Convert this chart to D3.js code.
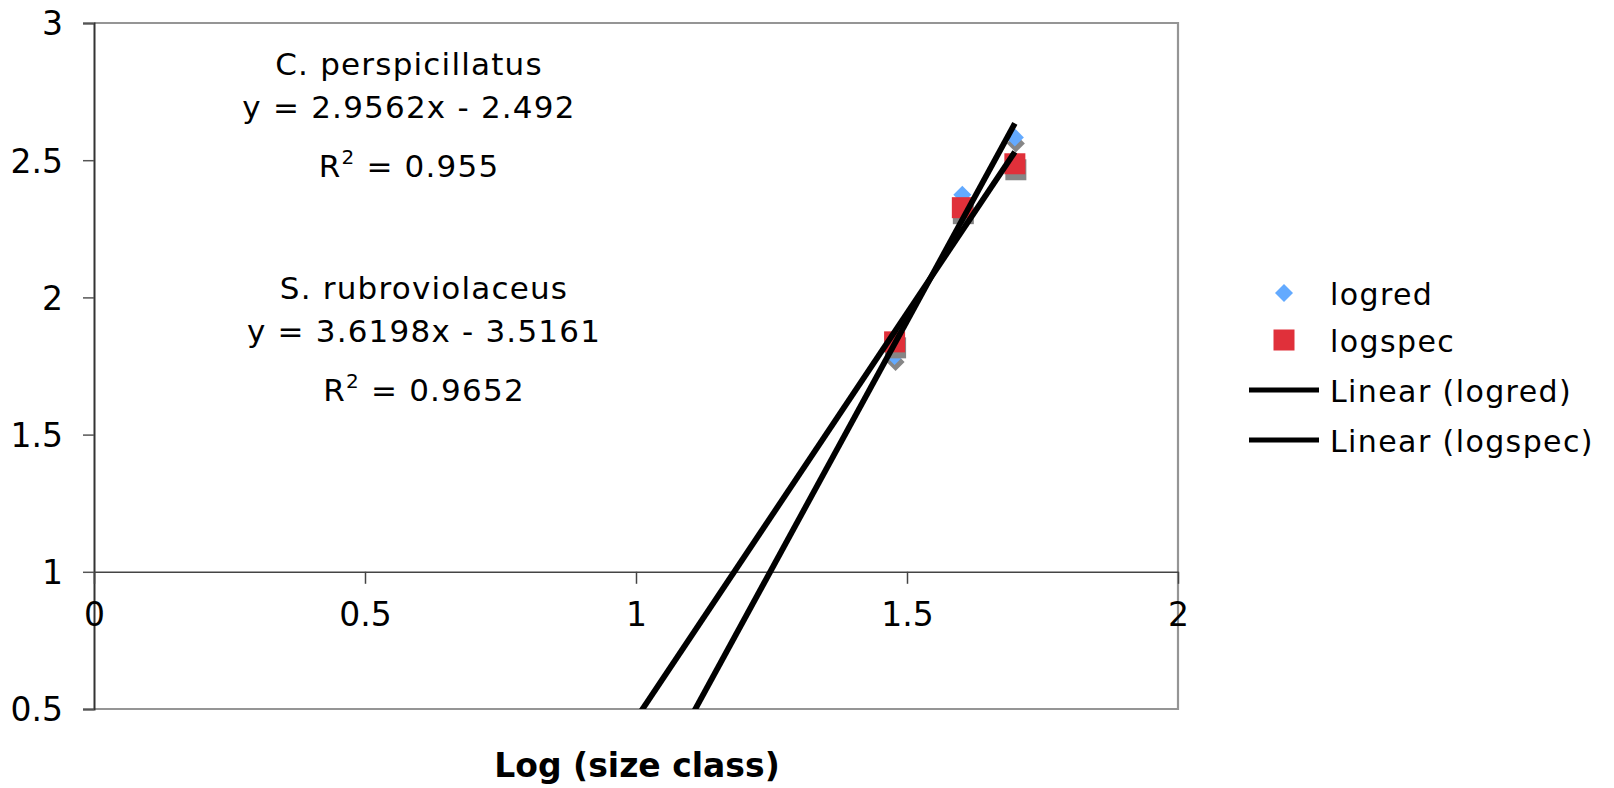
<!DOCTYPE html>
<html>
<head>
<meta charset="utf-8">
<script src="https://cdn.jsdelivr.net/npm/d3@7"></script>
<style>
  html, body { margin: 0; padding: 0; background: #fff; }
  svg { display: block; }
  text { font-family: "DejaVu Sans", Verdana, sans-serif; fill: #000; }
</style>
</head>
<body>
<svg id="chart" width="1614" height="788"></svg>
<script>
// Size classes (log10 of 30, 40, 50 cm)
const sizeClass = [1.4771, 1.6021, 1.6990];
const logred  = [1.786, 2.374, 2.583];
const logspec = [1.838, 2.327, 2.487];

// Fitted linear trends
const fitRed  = { slope: 3.6198, intercept: -3.5161, r2: "0.9652", species: "S. rubroviolaceus" };
const fitSpec = { slope: 2.9562, intercept: -2.492,  r2: "0.955",  species: "C. perspicillatus" };

const xTicks = [0, 0.5, 1, 1.5, 2];
const yTicks = [0.5, 1, 1.5, 2, 2.5, 3];
const legendItems = ["logred", "logspec", "Linear (logred)", "Linear (logspec)"];

const blue = "#63aaff", red = "#e0303a", shadow = "#868686";

const svg = d3.select("#chart");
const x = d3.scaleLinear().domain([0, 2]).range([94, 1178]);
const y = d3.scaleLinear().domain([0.5, 3]).range([709, 23]);

// plot frame (top, right, bottom)
svg.append("path")
  .attr("d", `M${x(0)},${y(3)}H${x(2)}V${y(0.5)}H${x(0)}`)
  .attr("fill", "none").attr("stroke", "#959595").attr("stroke-width", 2.2);

// y axis with ticks to the left
const yAxis = svg.append("g").attr("transform", `translate(${x(0)},0)`)
  .call(d3.axisLeft(y).tickValues(yTicks).tickSize(11).tickPadding(20)
        .tickFormat(d3.format("")));
yAxis.select(".domain").attr("stroke", "#333").attr("stroke-width", 2);
yAxis.selectAll(".tick line").attr("stroke", "#555").attr("stroke-width", 1.5);
yAxis.selectAll(".tick text").attr("font-size", 33).attr("font-family", "DejaVu Sans")
  .attr("fill", "#000").attr("dy", "0.36em");

// x axis crossing at y = 1
const xAxis = svg.append("g").attr("transform", `translate(0,${y(1)})`)
  .call(d3.axisBottom(x).tickValues(xTicks).tickSize(12).tickSizeOuter(0).tickPadding(26)
        .tickFormat(d3.format("")));
xAxis.select(".domain").attr("stroke", "#444").attr("stroke-width", 1.6);
xAxis.selectAll(".tick line").attr("stroke", "#444").attr("stroke-width", 1.5);
xAxis.selectAll(".tick text").attr("font-size", 33).attr("font-family", "DejaVu Sans")
  .attr("fill", "#000").attr("dy", "0.48em");

// clip for the trend lines
svg.append("clipPath").attr("id", "plotClip")
  .append("rect").attr("x", x(0)).attr("y", y(3))
  .attr("width", x(2) - x(0)).attr("height", y(0.5) - y(3));

const diamond = (cx, cy, r) => `M${cx},${cy - r}L${cx + r},${cy}L${cx},${cy + r}L${cx - r},${cy}Z`;
const pts = (vals) => sizeClass.map((v, i) => ({ x: v, y: vals[i] }));

// logred diamonds with drop shadow
const gRed = svg.append("g");
gRed.selectAll("path.sh").data(pts(logred)).join("path").attr("class", "sh")
  .attr("d", d => diamond(x(d.x) + 1, y(d.y) + 6, 9)).attr("fill", shadow);
gRed.selectAll("path.mk").data(pts(logred)).join("path").attr("class", "mk")
  .attr("d", d => diamond(x(d.x), y(d.y), 9)).attr("fill", blue);

// logspec squares with drop shadow
const gSpec = svg.append("g");
const sq = 21;
gSpec.selectAll("rect.sh").data(pts(logspec)).join("rect").attr("class", "sh")
  .attr("x", d => x(d.x) - sq / 2 + 1).attr("y", d => y(d.y) - sq / 2 + 6)
  .attr("width", sq).attr("height", sq).attr("fill", shadow);
gSpec.selectAll("rect.mk").data(pts(logspec)).join("rect").attr("class", "mk")
  .attr("x", d => x(d.x) - sq / 2).attr("y", d => y(d.y) - sq / 2)
  .attr("width", sq).attr("height", sq).attr("fill", red);

// trend lines
const xMax = d3.max(sizeClass);
const line = d3.line().x(d => x(d[0])).y(d => y(d[1]));
[fitRed, fitSpec].forEach(f => {
  const seg = [1.0, xMax].map(v => [v, f.slope * v + f.intercept]);
  svg.append("path").attr("d", line(seg)).attr("clip-path", "url(#plotClip)")
    .attr("fill", "none").attr("stroke", "#000").attr("stroke-width", 5.8);
});

// fit annotations
function fitLabel(f, cx, y0) {
  const g = svg.append("g").attr("font-size", 31).attr("letter-spacing", 1.2)
    .attr("text-anchor", "middle");
  g.append("text").attr("x", cx).attr("y", y0).text(f.species);
  const sign = f.intercept < 0 ? "-" : "+";
  g.append("text").attr("x", cx).attr("y", y0 + 42.5)
    .text(`y = ${f.slope}x ${sign} ${Math.abs(f.intercept)}`);
  const t = g.append("text").attr("x", cx).attr("y", y0 + 101.5);
  t.append("tspan").text("R");
  t.append("tspan").attr("font-size", 20).attr("dy", -13).text("2");
  t.append("tspan").attr("dy", 13).text(` = ${f.r2}`);
}
fitLabel(fitSpec, 409, 75);
fitLabel(fitRed, 424, 299);

// x axis title
svg.append("text").attr("x", 637).attr("y", 777).attr("text-anchor", "middle")
  .attr("font-size", 33).attr("font-weight", "bold").text("Log (size class)");

// legend
const lg = svg.append("g").attr("font-size", 30).attr("letter-spacing", 1.4);
const rowY = [293, 340, 390, 440];
lg.append("path").attr("d", diamond(1284, rowY[0], 9)).attr("fill", blue);
lg.append("rect").attr("x", 1284 - sq / 2).attr("y", rowY[1] - sq / 2)
  .attr("width", sq).attr("height", sq).attr("fill", red);
[2, 3].forEach(i => lg.append("line").attr("x1", 1249).attr("x2", 1319)
  .attr("y1", rowY[i]).attr("y2", rowY[i]).attr("stroke", "#000").attr("stroke-width", 5));
lg.selectAll("text.lab").data(legendItems).join("text").attr("class", "lab")
  .attr("x", 1330).attr("y", (d, i) => rowY[i] + 12).text(d => d);
</script>
</body>
</html>
